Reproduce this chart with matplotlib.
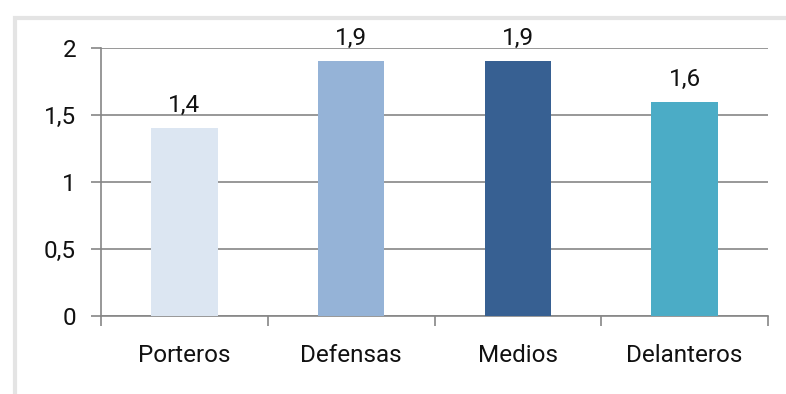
import numpy as np
import matplotlib.pyplot as plt
from matplotlib.patches import Rectangle

categories = ["Porteros", "Defensas", "Medios", "Delanteros"]
values = [1.4, 1.9, 1.9, 1.6]
colors = ["#DCE6F2", "#95B3D7", "#376092", "#4BACC6"]
yticks = [0, 0.5, 1, 1.5, 2]

plt.rcParams['font.family'] = ['Roboto', 'DejaVu Sans']
fs = 17.5

fig = plt.figure(figsize=(7.86, 3.94), dpi=100)

# shadow frame around the chart
fig.patches.append(Rectangle((15/786, -0.1), 1.0, 1 - 18/394 + 0.1, transform=fig.transFigure,
                             fill=False, edgecolor="#E4E4E4", linewidth=3, zorder=0))

ax = fig.add_axes([101/786, 1 - 316/394, 667/786, 268/394])

x = np.arange(len(categories))
bars = ax.bar(x, values, width=0.4, color=colors, zorder=3)

for xi, v in zip(x, values):
    ax.annotate(f"{v:.1f}".replace(".", ","), (xi, v), xytext=(0, 11.5),
                textcoords="offset points", ha="center", va="baseline",
                fontsize=fs, color="#111111")

ax.set_xlim(-0.5, len(categories) - 0.5)
ax.set_ylim(0, 2)
ax.set_yticks(yticks)
ax.set_yticklabels([f"{t:g}".replace(".", ",") for t in yticks], fontsize=fs, color="#111111")
ax.grid(axis="y", color="#868686", linewidth=1.2, zorder=0)

ax.set_xticks(x)
ax.set_xticklabels(categories, fontsize=fs, color="#111111")
ax.tick_params(axis="x", length=0, pad=20)
ax.set_xticks(np.arange(-0.5, len(categories)), minor=True)
ax.tick_params(axis="x", which="minor", length=7, color="#868686", width=1.2)
ax.tick_params(axis="y", length=7, color="#868686", width=1.2, pad=11)

for side in ["top", "right"]:
    ax.spines[side].set_visible(False)
for side in ["left", "bottom"]:
    ax.spines[side].set_color("#868686")
    ax.spines[side].set_linewidth(1.2)

fig.savefig("out.png", dpi=100)
